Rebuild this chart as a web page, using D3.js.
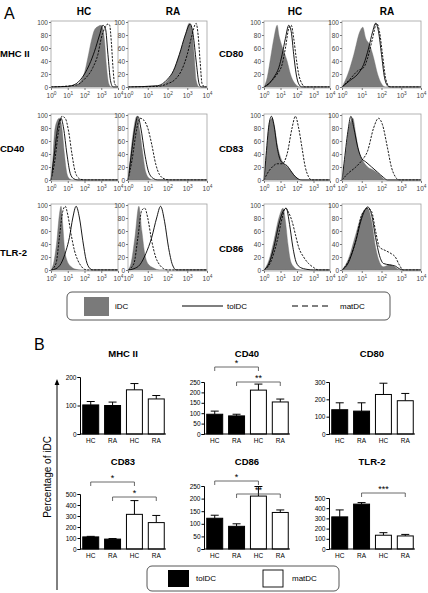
<!DOCTYPE html>
<html><head><meta charset="utf-8">
<script src="https://cdnjs.cloudflare.com/ajax/libs/d3/7.8.5/d3.min.js"></script>
<style>body{margin:0;background:#fff}svg{font-family:"Liberation Sans",Arial,sans-serif}</style>
</head><body><svg id="c" width="428" height="593"></svg>
<script>
// ---------- Panel A: flow histograms (x = log10 fluorescence, y = % of max) ----------
const histGroups = ["HC", "RA"];
const histMarkersLeft = ["MHC II", "CD40", "TLR-2"];
const histMarkersRight = ["CD80", "CD83", "CD86"];
const histYTicks = [0, 20, 40, 60, 80, 100];
const histXDecades = [0, 1, 2, 3, 4];
const legendA = ["iDC", "tolDC", "matDC"];

const mhc2_HC_iDC = [[0,0],[1,0.5],[1.5,3],[1.8,10],[2.0,22],[2.2,45],[2.4,70],[2.6,88],[2.8,93],[3.0,95],[3.1,90],[3.2,70],[3.3,35],[3.45,5],[3.6,0],[4,0]];
const mhc2_HC_tol = [[0,0],[1,1],[1.5,5],[2,20],[2.3,35],[2.6,55],[2.9,80],[3.1,95],[3.25,90],[3.4,50],[3.55,10],[3.7,0],[4,0]];
const mhc2_HC_mat = [[0,0],[1.5,3],[2,12],[2.5,30],[2.8,50],[3.0,75],[3.2,90],[3.4,97],[3.5,95],[3.6,70],[3.7,30],[3.8,5],[4,0]];
const mhc2_RA_iDC = [[0,0],[1.5,1],[2,10],[2.3,25],[2.6,50],[2.9,80],[3.1,98],[3.25,85],[3.35,50],[3.45,10],[3.6,0],[4,0]];
const mhc2_RA_tol = [[0,0],[1.5,2],[2,12],[2.3,25],[2.6,50],[2.9,80],[3.15,97],[3.3,80],[3.45,40],[3.6,5],[3.7,0],[4,0]];
const mhc2_RA_mat = [[0,0],[1.5,1],[2,5],[2.4,12],[2.7,25],[3.0,50],[3.2,75],[3.45,98],[3.55,80],[3.65,40],[3.75,5],[3.9,0],[4,0]];

const cd40_HC_iDC = [[0,0],[0.1,30],[0.2,70],[0.35,90],[0.5,95],[0.65,80],[0.8,40],[0.95,10],[1.1,2],[1.3,0],[4,0]];
const cd40_HC_tol = [[0,0],[0.2,40],[0.4,80],[0.6,95],[0.75,80],[0.95,40],[1.15,10],[1.35,2],[1.6,0],[4,0]];
const cd40_HC_mat = [[0,0],[0.2,25],[0.45,75],[0.65,98],[0.85,95],[1.05,75],[1.25,40],[1.45,12],[1.7,2],[2,0],[4,0]];
const cd40_RA_iDC = [[0,0],[0.1,30],[0.25,70],[0.45,98],[0.6,75],[0.75,40],[0.9,12],[1.1,2],[1.3,0],[4,0]];
const cd40_RA_tol = [[0,0],[0.15,35],[0.35,80],[0.5,98],[0.65,80],[0.85,40],[1.05,12],[1.3,2],[1.5,0],[4,0]];
const cd40_RA_mat = [[0,0],[0.2,30],[0.45,80],[0.6,95],[0.8,92],[1.0,80],[1.2,55],[1.4,25],[1.6,8],[1.9,1],[2.1,0],[4,0]];

const tlr2_HC_iDC = [[0,0],[0.15,10],[0.35,45],[0.5,85],[0.6,98],[0.7,70],[0.8,35],[0.95,15],[1.2,5],[1.5,1],[1.8,0],[4,0]];
const tlr2_HC_tol = [[0,0],[0.3,2],[0.6,10],[0.9,30],[1.1,50],[1.3,80],[1.5,98],[1.7,80],[1.9,45],[2.1,15],[2.3,3],[2.5,0],[4,0]];
const tlr2_HC_mat = [[0,0],[0.3,10],[0.5,50],[0.7,90],[0.85,98],[1.0,85],[1.2,55],[1.4,30],[1.6,15],[1.8,6],[2.0,1],[2.2,0],[4,0]];
const tlr2_RA_iDC = [[0,0],[0.15,10],[0.35,50],[0.55,98],[0.7,60],[0.85,25],[1.0,10],[1.3,3],[1.6,0],[4,0]];
const tlr2_RA_tol = [[0,0],[0.3,2],[0.6,8],[0.9,25],[1.2,50],[1.45,80],[1.65,98],[1.85,75],[2.05,35],[2.25,8],[2.45,0],[4,0]];
const tlr2_RA_mat = [[0,0],[0.3,10],[0.5,50],[0.7,92],[0.85,95],[1.0,80],[1.2,45],[1.4,20],[1.6,8],[1.8,2],[2.0,0],[4,0]];

const cd80_HC_iDC = [[0,0],[0.2,15],[0.4,45],[0.6,75],[0.8,95],[0.9,80],[1.0,70],[1.2,55],[1.4,40],[1.6,20],[1.8,8],[2.0,2],[2.2,0],[4,0]];
const cd80_HC_tol = [[0,0],[0.3,5],[0.6,15],[0.9,30],[1.1,50],[1.3,75],[1.5,95],[1.65,85],[1.8,50],[1.95,20],[2.1,5],[2.3,0],[4,0]];
const cd80_HC_mat = [[0,0],[0.4,8],[0.8,20],[1.1,35],[1.3,60],[1.5,90],[1.65,95],[1.8,75],[1.95,45],[2.1,20],[2.3,5],[2.5,0],[4,0]];
const cd80_RA_iDC = [[0,0],[0.3,20],[0.6,50],[0.9,85],[1.05,92],[1.2,75],[1.4,65],[1.6,45],[1.8,20],[2.0,5],[2.2,0],[4,0]];
const cd80_RA_tol = [[0,0],[0.4,10],[0.8,20],[1.1,35],[1.35,60],[1.55,85],[1.7,98],[1.85,85],[2.0,50],[2.15,15],[2.3,2],[2.4,0],[4,0]];
const cd80_RA_mat = [[0,0],[0.4,12],[0.8,25],[1.1,30],[1.3,45],[1.55,75],[1.75,98],[1.9,85],[2.05,50],[2.2,15],[2.35,2],[2.5,0],[4,0]];

const cd83_HC_iDC = [[0,0],[0.15,40],[0.35,90],[0.5,95],[0.65,80],[0.8,55],[1.0,35],[1.2,25],[1.4,20],[1.6,15],[1.8,8],[2.0,3],[2.2,0],[4,0]];
const cd83_HC_tol = [[0,0],[0.1,30],[0.3,85],[0.45,98],[0.6,85],[0.8,50],[1.0,30],[1.2,25],[1.4,22],[1.6,15],[1.8,8],[2.0,3],[2.3,0],[4,0]];
const cd83_HC_mat = [[0,0],[0.2,10],[0.5,20],[0.8,25],[1.1,25],[1.4,40],[1.7,80],[1.9,98],[2.1,80],[2.3,50],[2.5,20],[2.7,5],[2.9,0],[4,0]];
const cd83_RA_iDC = [[0,0],[0.15,30],[0.35,80],[0.55,95],[0.7,70],[0.85,45],[1.05,30],[1.3,20],[1.6,15],[1.9,8],[2.1,2],[2.3,0],[4,0]];
const cd83_RA_tol = [[0,0],[0.1,25],[0.3,75],[0.45,98],[0.6,80],[0.8,50],[1.0,33],[1.2,28],[1.5,20],[1.8,12],[2.1,4],[2.3,0],[4,0]];
const cd83_RA_mat = [[0,0],[0.3,10],[0.7,20],[1.0,30],[1.3,45],[1.6,80],[1.85,95],[2.05,85],[2.3,50],[2.5,20],[2.7,5],[2.9,0],[4,0]];

const cd86_HC_iDC = [[0,0],[0.3,15],[0.6,45],[0.9,80],[1.15,95],[1.3,75],[1.45,40],[1.6,15],[1.8,5],[2.0,1],[2.3,0],[4,0]];
const cd86_HC_tol = [[0,0],[0.3,10],[0.6,35],[0.9,70],[1.15,90],[1.35,95],[1.55,70],[1.75,35],[1.95,12],[2.2,4],[2.6,1],[3,0],[4,0]];
const cd86_HC_mat = [[0,0],[0.4,12],[0.8,45],[1.1,80],[1.3,95],[1.5,88],[1.7,75],[1.9,55],[2.1,35],[2.4,20],[2.7,10],[3.0,4],[3.3,0],[4,0]];
const cd86_RA_iDC = [[0,0],[0.3,15],[0.7,55],[1.0,85],[1.3,95],[1.5,75],[1.7,35],[1.9,12],[2.1,5],[2.4,8],[2.6,6],[2.8,2],[3.0,0],[4,0]];
const cd86_RA_tol = [[0,0],[0.3,10],[0.7,45],[1.0,80],[1.3,97],[1.5,85],[1.7,50],[1.9,22],[2.1,10],[2.4,8],[2.7,6],[2.9,2],[3.1,0],[4,0]];
const cd86_RA_mat = [[0,0],[0.3,12],[0.7,45],[1.0,85],[1.3,95],[1.5,90],[1.7,60],[1.9,35],[2.2,30],[2.5,25],[2.7,20],[2.9,8],[3.1,0],[4,0]];

// ---------- Panel B: bar charts (% of iDC), order: tolDC HC, tolDC RA, matDC HC, matDC RA ----------
const barCats = ["HC", "RA", "HC", "RA"];
const barKinds = ["tolDC", "tolDC", "matDC", "matDC"];
const legendB = ["tolDC", "matDC"];
const yAxisLabelB = "Percentage of iDC";

const mhc2Mean = [102, 100, 155, 123];  const mhc2Err = [12, 12, 22, 12];  const mhc2Ticks = [0, 100, 200];
const cd40Mean = [95, 87, 211, 154];    const cd40Err = [15, 8, 29, 14];   const cd40Ticks = [0, 50, 100, 150, 200, 250];
const cd80Mean = [140, 132, 228, 192];  const cd80Err = [40, 48, 65, 42];  const cd80Ticks = [0, 100, 200, 300];
const cd83Mean = [110, 90, 315, 240];   const cd83Err = [5, 5, 125, 65];   const cd83Ticks = [0, 100, 200, 300, 400, 500];
const cd86Mean = [122, 90, 210, 145];   const cd86Err = [12, 10, 38, 10];  const cd86Ticks = [0, 50, 100, 150, 200, 250];
const tlr2Mean = [315, 440, 135, 128];  const tlr2Err = [68, 15, 25, 15];  const tlr2Ticks = [0, 100, 200, 300, 400, 500];

const cd40Sig = [[0, 2, "*"], [1, 3, "**"]];
const cd83Sig = [[0, 2, "*"], [1, 3, "*"]];
const cd86Sig = [[0, 2, "*"], [1, 3, "**"]];
const tlr2Sig = [[1, 3, "***"]];

// ================= drawing =================
const svg = d3.select("#c");
const GRAY = "#7a7a7a";

svg.append("text").attr("x", 4).attr("y", 19).attr("font-size", 16).text("A");
svg.append("text").attr("x", 34).attr("y", 350).attr("font-size", 16).text("B");

const colX = [51, 128, 264, 342];
const colW = [67, 79, 66, 79];
const rowY = [21, 114, 204];
const boxH = 67;

const headerX = [84, 173, 295, 387];
headerX.forEach((hx, i) => {
  svg.append("text").attr("x", hx).attr("y", 15).attr("text-anchor", "middle")
    .attr("font-size", 10).attr("font-weight", "bold").text(histGroups[i % 2]);
});

const rowLabelY = [57, 152, 256];
histMarkersLeft.forEach((m, i) => svg.append("text").attr("x", 0).attr("y", rowLabelY[i])
  .attr("font-size", 9.5).attr("font-weight", "bold").text(m));
histMarkersRight.forEach((m, i) => svg.append("text").attr("x", 219).attr("y", rowLabelY[i] - (i === 2 ? 4 : 0))
  .attr("font-size", 9.5).attr("font-weight", "bold").text(m));

function hist(col, row, iDC, tol, mat) {
  const x0 = colX[col], w = colW[col], y0 = rowY[row];
  const x = d3.scaleLinear().domain([0, 4]).range([x0, x0 + w]);
  const y = d3.scaleLinear().domain([0, 100]).range([y0 + boxH - 1, y0 + 1]);
  const g = svg.append("g");
  const area = d3.area().x(d => x(d[0])).y0(y(0)).y1(d => y(d[1])).curve(d3.curveMonotoneX);
  const line = d3.line().x(d => x(d[0])).y(d => y(d[1])).curve(d3.curveMonotoneX);
  g.append("path").attr("d", area(iDC)).attr("fill", GRAY).attr("stroke", "#6a6a6a").attr("stroke-width", 0.4);
  g.append("path").attr("d", line(tol)).attr("fill", "none").attr("stroke", "#000").attr("stroke-width", 0.9);
  g.append("path").attr("d", line(mat)).attr("fill", "none").attr("stroke", "#000").attr("stroke-width", 0.9)
    .attr("stroke-dasharray", "2.2,1.3");
  g.append("rect").attr("x", x0).attr("y", y0).attr("width", w).attr("height", boxH)
    .attr("fill", "none").attr("stroke", "#a0a0a0").attr("stroke-width", 0.8);
  const ya = g.append("g").attr("transform", `translate(${x0},0)`)
    .call(d3.axisLeft(y).tickValues(histYTicks).tickSize(2).tickPadding(1));
  ya.select(".domain").remove();
  ya.selectAll("line").attr("stroke", "#777");
  ya.selectAll("text").attr("font-size", 6.5).attr("fill", "#444").attr("font-family", "Liberation Sans, Arial");
  const xa = g.append("g").attr("transform", `translate(0,${y0 + boxH})`)
    .call(d3.axisBottom(x).tickValues(histXDecades).tickSize(2).tickFormat(""));
  xa.select(".domain").remove();
  xa.selectAll("line").attr("stroke", "#777");
  xa.selectAll(".tick").each(function (d) {
    const t = d3.select(this).append("text").attr("y", 10).attr("fill", "#444")
      .attr("font-size", 6.5).attr("text-anchor", "middle").attr("font-family", "Liberation Sans, Arial");
    t.append("tspan").text("10");
    t.append("tspan").attr("dy", -3).attr("font-size", 4.8).text(d);
  });
}

hist(0, 0, mhc2_HC_iDC, mhc2_HC_tol, mhc2_HC_mat);
hist(1, 0, mhc2_RA_iDC, mhc2_RA_tol, mhc2_RA_mat);
hist(0, 1, cd40_HC_iDC, cd40_HC_tol, cd40_HC_mat);
hist(1, 1, cd40_RA_iDC, cd40_RA_tol, cd40_RA_mat);
hist(0, 2, tlr2_HC_iDC, tlr2_HC_tol, tlr2_HC_mat);
hist(1, 2, tlr2_RA_iDC, tlr2_RA_tol, tlr2_RA_mat);
hist(2, 0, cd80_HC_iDC, cd80_HC_tol, cd80_HC_mat);
hist(3, 0, cd80_RA_iDC, cd80_RA_tol, cd80_RA_mat);
hist(2, 1, cd83_HC_iDC, cd83_HC_tol, cd83_HC_mat);
hist(3, 1, cd83_RA_iDC, cd83_RA_tol, cd83_RA_mat);
hist(2, 2, cd86_HC_iDC, cd86_HC_tol, cd86_HC_mat);
hist(3, 2, cd86_RA_iDC, cd86_RA_tol, cd86_RA_mat);

// legend A
(function () {
  const g = svg.append("g");
  g.append("rect").attr("x", 67).attr("y", 292).attr("width", 323).attr("height", 28).attr("rx", 5)
    .attr("fill", "none").attr("stroke", "#444").attr("stroke-width", 0.9);
  g.append("rect").attr("x", 84).attr("y", 297).attr("width", 25).attr("height", 19).attr("fill", GRAY);
  g.append("text").attr("x", 115).attr("y", 309).attr("font-size", 8).text(legendA[0]);
  g.append("line").attr("x1", 182).attr("x2", 223).attr("y1", 306).attr("y2", 306).attr("stroke", "#000").attr("stroke-width", 1.2);
  g.append("text").attr("x", 227).attr("y", 309).attr("font-size", 8).text(legendA[1]);
  g.append("line").attr("x1", 292).attr("x2", 330).attr("y1", 306).attr("y2", 306).attr("stroke", "#000").attr("stroke-width", 1.2)
    .attr("stroke-dasharray", "6,4");
  g.append("text").attr("x", 340).attr("y", 309).attr("font-size", 8).text(legendA[2]);
})();

// ---------- bar charts ----------
function bars(axX, zeroY, topY, titleY, title, mean, err, ticks) {
  const g = svg.append("g");
  const y = d3.scaleLinear().domain([0, d3.max(ticks)]).range([zeroY, topY]);
  const x = d3.scaleBand().domain(d3.range(4)).range([axX + 1, axX + 86]).paddingInner(0.27).paddingOuter(0.08);
  g.append("text").attr("x", axX + 43).attr("y", titleY).attr("text-anchor", "middle")
    .attr("font-size", 9.5).attr("font-weight", "bold").text(title);
  const bw = x.bandwidth();
  mean.forEach((m, i) => {
    const cx = x(i) + bw / 2;
    g.append("line").attr("x1", cx).attr("x2", cx).attr("y1", y(m)).attr("y2", y(m + err[i])).attr("stroke", "#000").attr("stroke-width", 1);
    g.append("line").attr("x1", cx - 4).attr("x2", cx + 4).attr("y1", y(m + err[i])).attr("y2", y(m + err[i])).attr("stroke", "#000").attr("stroke-width", 1);
    g.append("rect").attr("x", x(i)).attr("y", y(m)).attr("width", bw).attr("height", zeroY - y(m))
      .attr("fill", barKinds[i] === "tolDC" ? "#000" : "#fff").attr("stroke", "#000").attr("stroke-width", 1);
    g.append("text").attr("x", cx).attr("y", zeroY + 9).attr("text-anchor", "middle").attr("font-size", 6.5).text(barCats[i]);
  });
  const ya = g.append("g").attr("transform", `translate(${axX},0)`)
    .call(d3.axisLeft(y).tickValues(ticks).tickSize(2.5).tickPadding(1));
  ya.selectAll("text").attr("font-size", 6.5).attr("font-family", "Liberation Sans, Arial");
  ya.selectAll("path,line").attr("stroke", "#000");
  g.append("line").attr("x1", axX).attr("x2", axX + 86).attr("y1", zeroY).attr("y2", zeroY).attr("stroke", "#000").attr("stroke-width", 1);
  return { g, x, y, bw };
}

function brackets(p, sig, levels) {
  sig.forEach((s, k) => {
    const x1 = p.x(s[0]) + p.bw / 2, x2 = p.x(s[1]) + p.bw / 2, yy = levels[k];
    p.g.append("path").attr("d", `M${x1},${yy + 4}V${yy}H${x2}V${yy + 4}`).attr("fill", "none").attr("stroke", "#444").attr("stroke-width", 0.8);
    p.g.append("text").attr("x", (x1 + x2) / 2).attr("y", yy - 1).attr("text-anchor", "middle").attr("font-size", 9).text(s[2]);
  });
}

bars(80, 434, 377, 357, "MHC II", mhc2Mean, mhc2Err, mhc2Ticks);
const pCD40 = bars(204, 434, 382, 357, "CD40", cd40Mean, cd40Err, cd40Ticks);
brackets(pCD40, cd40Sig, [367, 382]);
bars(329, 434, 382, 357, "CD80", cd80Mean, cd80Err, cd80Ticks);

const pCD83 = bars(80, 549, 494, 465, "CD83", cd83Mean, cd83Err, cd83Ticks);
brackets(pCD83, cd83Sig, [482, 497]);
const pCD86 = bars(204, 549, 486, 465, "CD86", cd86Mean, cd86Err, cd86Ticks);
brackets(pCD86, cd86Sig, [481, 494]);
const pTLR = bars(329, 549, 498, 465, "TLR-2", tlr2Mean, tlr2Err, tlr2Ticks);
brackets(pTLR, tlr2Sig, [493]);

// y axis label with arrow
svg.append("defs").append("marker").attr("id", "arr").attr("viewBox", "0 0 10 10").attr("refX", 5).attr("refY", 5)
  .attr("markerWidth", 6).attr("markerHeight", 6).attr("orient", "auto")
  .append("path").attr("d", "M0,1L10,5L0,9Z").attr("fill", "#000");
svg.append("line").attr("x1", 57).attr("x2", 57).attr("y1", 590).attr("y2", 382).attr("stroke", "#000").attr("stroke-width", 1)
  .attr("marker-end", "url(#arr)");
svg.append("text").attr("transform", "translate(51,477) rotate(-90)").attr("text-anchor", "middle")
  .attr("font-size", 10).text(yAxisLabelB);

// legend B
(function () {
  const g = svg.append("g");
  g.append("rect").attr("x", 147).attr("y", 566).attr("width", 192).attr("height", 25).attr("rx", 5)
    .attr("fill", "none").attr("stroke", "#444").attr("stroke-width", 0.9);
  g.append("rect").attr("x", 168).attr("y", 570).attr("width", 21).attr("height", 17).attr("fill", "#000");
  g.append("text").attr("x", 196).attr("y", 581).attr("font-size", 8).text(legendB[0]);
  g.append("rect").attr("x", 263).attr("y", 570).attr("width", 20).attr("height", 17).attr("fill", "#fff").attr("stroke", "#000").attr("stroke-width", 0.9);
  g.append("text").attr("x", 292).attr("y", 581).attr("font-size", 8).text(legendB[1]);
})();
</script></body></html>
